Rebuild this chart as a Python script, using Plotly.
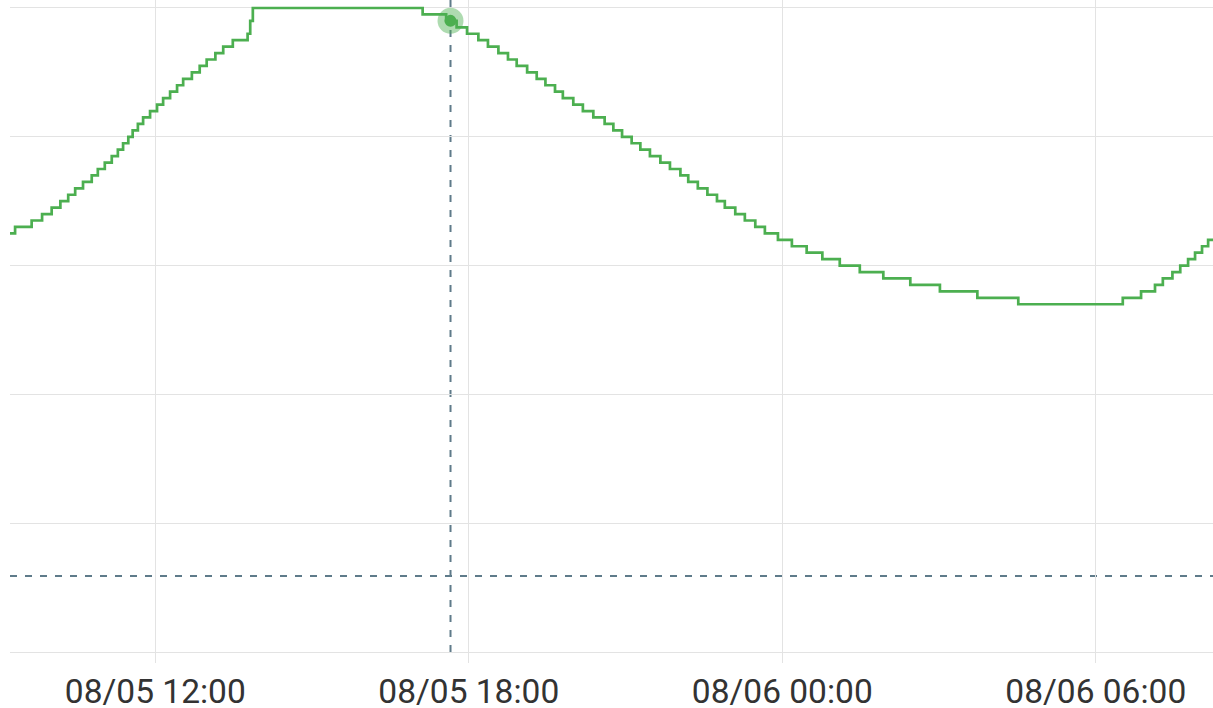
import plotly.graph_objects as go

# ---- data ----
times = [
    "2024-08-05 09:13", "2024-08-05 09:19", "2024-08-05 09:38", "2024-08-05 09:50",
    "2024-08-05 10:01", "2024-08-05 10:11", "2024-08-05 10:20", "2024-08-05 10:28",
    "2024-08-05 10:37", "2024-08-05 10:47", "2024-08-05 10:54", "2024-08-05 11:02",
    "2024-08-05 11:10", "2024-08-05 11:17", "2024-08-05 11:23", "2024-08-05 11:29",
    "2024-08-05 11:34", "2024-08-05 11:40", "2024-08-05 11:46", "2024-08-05 11:54",
    "2024-08-05 12:02", "2024-08-05 12:09", "2024-08-05 12:17", "2024-08-05 12:25",
    "2024-08-05 12:32", "2024-08-05 12:42", "2024-08-05 12:51", "2024-08-05 12:59",
    "2024-08-05 13:09", "2024-08-05 13:18", "2024-08-05 13:29", "2024-08-05 13:46",
    "2024-08-05 13:49", "2024-08-05 13:52", "2024-08-05 17:07", "2024-08-05 17:34",
    "2024-08-05 17:46", "2024-08-05 17:58", "2024-08-05 18:11", "2024-08-05 18:22",
    "2024-08-05 18:34", "2024-08-05 18:45", "2024-08-05 18:55", "2024-08-05 19:07",
    "2024-08-05 19:18", "2024-08-05 19:28", "2024-08-05 19:39", "2024-08-05 19:48",
    "2024-08-05 20:00", "2024-08-05 20:11", "2024-08-05 20:23", "2024-08-05 20:36",
    "2024-08-05 20:46", "2024-08-05 20:56", "2024-08-05 21:07", "2024-08-05 21:17",
    "2024-08-05 21:28", "2024-08-05 21:40", "2024-08-05 21:51", "2024-08-05 22:03",
    "2024-08-05 22:12", "2024-08-05 22:23", "2024-08-05 22:34", "2024-08-05 22:45",
    "2024-08-05 22:54", "2024-08-05 23:06", "2024-08-05 23:17", "2024-08-05 23:29",
    "2024-08-05 23:40", "2024-08-05 23:55", "2024-08-06 00:11", "2024-08-06 00:28",
    "2024-08-06 00:46", "2024-08-06 01:06", "2024-08-06 01:29", "2024-08-06 01:56",
    "2024-08-06 02:27", "2024-08-06 03:01", "2024-08-06 03:44", "2024-08-06 04:31",
    "2024-08-06 06:31", "2024-08-06 06:52", "2024-08-06 07:08", "2024-08-06 07:17",
    "2024-08-06 07:28", "2024-08-06 07:37", "2024-08-06 07:46", "2024-08-06 07:54",
    "2024-08-06 08:02", "2024-08-06 08:09", "2024-08-06 08:15",
]
values = [
    24.5, 24.6, 24.7, 24.8,
    24.9, 25.0, 25.1, 25.2,
    25.3, 25.4, 25.5, 25.6,
    25.7, 25.8, 25.9, 26.0,
    26.1, 26.2, 26.3, 26.4,
    26.5, 26.6, 26.7, 26.8,
    26.9, 27.0, 27.1, 27.2,
    27.3, 27.4, 27.5, 27.6,
    27.8, 28.0, 27.9, 27.8,
    27.7, 27.6, 27.5, 27.4,
    27.3, 27.2, 27.1, 27.0,
    26.9, 26.8, 26.7, 26.6,
    26.5, 26.4, 26.3, 26.2,
    26.1, 26.0, 25.9, 25.8,
    25.7, 25.6, 25.5, 25.4,
    25.3, 25.2, 25.1, 25.0,
    24.9, 24.8, 24.7, 24.6,
    24.5, 24.4, 24.3, 24.2,
    24.1, 24.0, 23.9, 23.8,
    23.7, 23.6, 23.5, 23.4,
    23.5, 23.6, 23.7, 23.8,
    23.9, 24.0, 24.1, 24.2,
    24.3, 24.4, 24.4,
]
tick_values = ["2024-08-05 12:00", "2024-08-05 18:00", "2024-08-06 00:00", "2024-08-06 06:00"]
tick_labels = ["08/05 12:00", "08/05 18:00", "08/06 00:00", "08/06 06:00"]
hover_time = "2024-08-05 17:39"
hover_value = 27.8
threshold = 19.18
x_range = ["2024-08-05 09:13:09", "2024-08-06 08:14:36"]
y_range = [18, 28.124]

GREEN = "#4caf50"
DASH = "#5f7b8a"

fig = go.Figure()
fig.add_trace(go.Scatter(
    x=times, y=values, mode="lines", line=dict(color=GREEN, width=2.7, shape="hv"),
    hoverinfo="skip", showlegend=False,
))
fig.add_trace(go.Scatter(
    x=[hover_time], y=[hover_value], mode="markers",
    marker=dict(size=26, color="rgba(76,175,80,0.45)", line=dict(width=0)),
    hoverinfo="skip", showlegend=False, cliponaxis=False,
))
fig.add_trace(go.Scatter(
    x=[hover_time], y=[hover_value], mode="markers",
    marker=dict(size=12, color=GREEN, line=dict(width=0)),
    hoverinfo="skip", showlegend=False, cliponaxis=False,
))

fig.add_shape(type="line", xref="x", yref="paper", x0=hover_time, x1=hover_time, y0=0, y1=1,
              line=dict(color=DASH, width=2, dash="7px,8px"), layer="below")
fig.add_shape(type="line", xref="paper", yref="y", x0=0, x1=1, y0=threshold, y1=threshold,
              line=dict(color=DASH, width=2, dash="7px,8px"), layer="below")

fig.update_layout(
    width=1213, height=708,
    margin=dict(l=10, r=0, t=0, b=56),
    paper_bgcolor="white", plot_bgcolor="white",
    font=dict(family="Roboto", color="#333333"),
)
fig.update_xaxes(
    type="date", range=x_range, tickvals=tick_values, ticktext=tick_labels,
    showgrid=True, gridcolor="#e3e3e3", gridwidth=1,
    ticks="outside", ticklen=10, tickcolor="#e3e3e3", tickwidth=1,
    showline=True, linecolor="#e3e3e3", linewidth=1,
    tickfont=dict(size=33.5, family="Roboto", color="#333333"),
    zeroline=False, fixedrange=True, automargin=False,
)
fig.update_yaxes(
    range=y_range, tick0=18, dtick=2, showticklabels=False,
    showgrid=True, gridcolor="#e3e3e3", gridwidth=1,
    zeroline=False, showline=False, ticks="", fixedrange=True, automargin=False,
)

fig.write_html("out.html", config={"displayModeBar": False},
               post_script="document.body.style.margin='0';document.body.style.overflow='hidden';")
